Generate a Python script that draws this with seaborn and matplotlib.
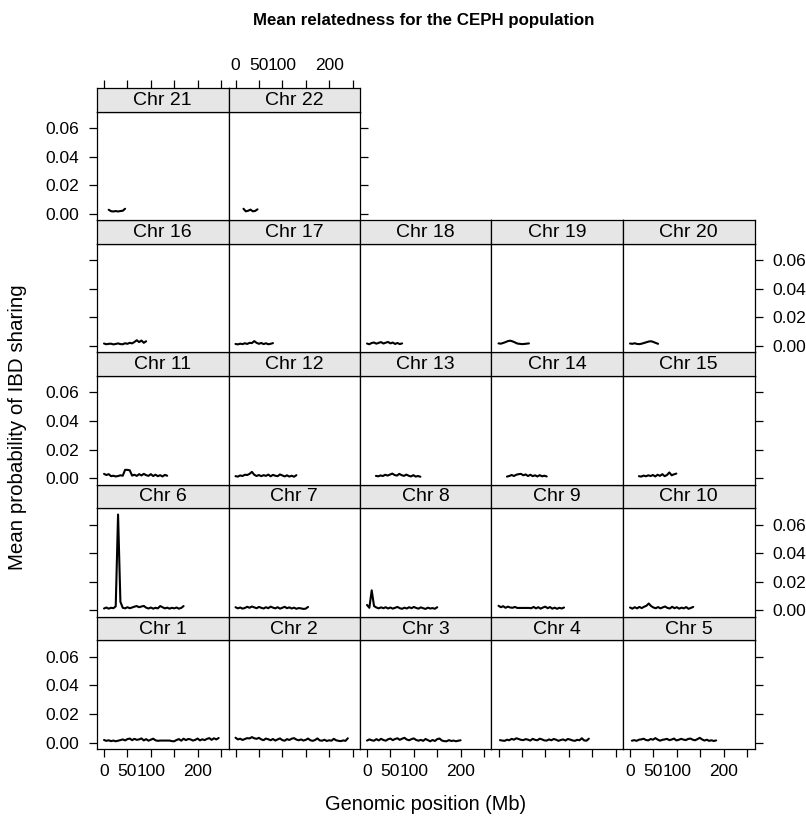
import numpy as np
import pandas as pd
import matplotlib
matplotlib.use("Agg")
import matplotlib.pyplot as plt
import seaborn as sns

# ---- data: mean IBD probability along each chromosome (units of 1e-4) ----
chroms = [f"Chr {i}" for i in range(1, 23)]
chrom_start = [0, 0, 0, 3, 4, 0, 0, 0, 0, 0, 0, 0, 19, 18, 19, 0, 0, 0, 0, 0, 10, 17]
step_mb = 5

ibd_e4 = {
    "Chr 1": [18, 12, 16, 10, 14, 9, 13, 17, 22, 15, 24, 28, 17, 26, 19, 22, 29, 15, 24, 13,
              20, 27, 16, 12, 14, 14, 14, 14, 14, 10, 9, 18, 24, 13, 27, 17, 25, 22, 14, 19,
              28, 15, 23, 17, 26, 31, 19, 30, 22, 32],
    "Chr 2": [34, 22, 27, 18, 25, 31, 29, 38, 30, 26, 33, 22, 17, 28, 23, 16, 25, 14, 22, 29,
              17, 13, 24, 18, 27, 31, 21, 16, 22, 14, 19, 28, 16, 12, 18, 29, 15, 13, 20, 11,
              16, 13, 26, 16, 12, 10, 15, 12, 30],
    "Chr 3": [14, 22, 16, 13, 24, 15, 26, 18, 13, 23, 28, 17, 25, 30, 19, 27, 33, 21, 16, 24,
              29, 18, 13, 19, 12, 25, 17, 9, 18, 11, 24, 28, 14, 10, 9, 17, 11, 14, 9, 13, 16],
    "Chr 4": [17, 14, 12, 20, 16, 26, 20, 30, 25, 19, 17, 24, 20, 14, 26, 19, 16, 27, 22, 15,
              14, 22, 16, 25, 20, 12, 18, 22, 14, 25, 21, 15, 12, 19, 16, 30, 15, 13, 27],
    "Chr 5": [13, 17, 12, 20, 22, 27, 18, 15, 25, 20, 31, 21, 13, 19, 22, 26, 17, 21, 28, 15,
              19, 26, 21, 17, 25, 28, 20, 16, 24, 33, 22, 14, 20, 12, 16, 11, 15],
    "Chr 6": [13, 20, 12, 18, 15, 28, 670, 60, 18, 14, 22, 15, 20, 26, 30, 22, 27, 31, 19, 13,
              20, 12, 18, 14, 30, 22, 14, 19, 12, 18, 14, 20, 12, 17, 30],
    "Chr 7": [22, 14, 20, 12, 17, 25, 18, 27, 21, 15, 24, 18, 13, 22, 15, 26, 19, 14, 22, 12,
              18, 25, 15, 21, 13, 19, 11, 16, 14, 10, 12, 24],
    "Chr 8": [38, 18, 140, 30, 20, 14, 21, 15, 22, 13, 20, 12, 18, 24, 15, 11, 19, 13, 22, 15,
              24, 17, 12, 21, 15, 10, 19, 13, 16, 11, 22],
    "Chr 9": [32, 22, 29, 18, 26, 20, 18, 24, 17, 17, 17, 17, 17, 17, 15, 24, 14, 22, 12, 20,
              26, 15, 23, 12, 19, 11, 18, 13, 20],
    "Chr 10": [20, 12, 22, 14, 24, 16, 25, 32, 48, 30, 20, 15, 23, 14, 21, 27, 17, 13, 25, 15,
               22, 12, 19, 14, 23, 11, 17, 24],
    "Chr 11": [30, 22, 28, 14, 17, 12, 15, 20, 17, 58, 58, 55, 18, 24, 16, 28, 19, 30, 21, 16,
               28, 15, 24, 14, 21, 12, 23, 17],
    "Chr 12": [14, 11, 19, 15, 24, 22, 30, 44, 24, 15, 22, 14, 21, 16, 25, 13, 23, 17, 14, 26,
               19, 12, 20, 11, 17, 10, 21],
    "Chr 13": [16, 13, 19, 15, 24, 18, 25, 32, 22, 18, 30, 21, 16, 25, 17, 12, 21, 11, 15, 10],
    "Chr 14": [11, 15, 22, 15, 24, 28, 30, 20, 26, 15, 24, 14, 20, 12, 21, 13, 17, 12],
    "Chr 15": [14, 11, 18, 13, 20, 15, 22, 12, 24, 16, 28, 14, 22, 40, 20, 27, 32],
    "Chr 16": [17, 12, 15, 16, 11, 14, 18, 13, 12, 19, 15, 22, 18, 28, 40, 27, 38, 22, 33],
    "Chr 17": [14, 11, 16, 13, 19, 14, 22, 20, 34, 22, 15, 21, 13, 19, 12, 15, 20],
    "Chr 18": [17, 12, 21, 24, 16, 22, 27, 17, 23, 28, 18, 24, 14, 21, 13, 18],
    "Chr 19": [18, 16, 21, 27, 34, 37, 32, 25, 17, 15, 13, 14, 16, 18],
    "Chr 20": [17, 15, 19, 14, 13, 16, 21, 26, 31, 33, 28, 21, 15],
    "Chr 21": [28, 18, 16, 19, 16, 19, 21, 35],
    "Chr 22": [35, 17, 21, 29, 17, 20, 31],
}

x_ticks = [0, 50, 100, 150, 200, 250]
x_tick_labels = ["0", "50", "100", "", "200", ""]
y_ticks = [0.00, 0.02, 0.04, 0.06]
y_tick_labels = ["0.00", "0.02", "0.04", "0.06"]

# long-form table for seaborn
rows = []
for name, start in zip(chroms, chrom_start):
    vals = ibd_e4[name]
    for i, v in enumerate(vals):
        rows.append((name, start + step_mb * i, v * 1e-4))
df = pd.DataFrame(rows, columns=["chrom", "pos", "ibd"])

# ---- figure layout (lattice style, 5 x 5 grid filled from bottom-left) ----
sns.set_theme(style="white")
plt.rcParams["font.family"] = ["Liberation Sans", "DejaVu Sans"]
plt.rcParams.update({"text.color": "black", "axes.labelcolor": "black",
                     "xtick.color": "black", "ytick.color": "black"})

W, H = 806, 819
fig = plt.figure(figsize=(W / 100, H / 100), dpi=100)

col_left = [97.0 + 131.5 * c for c in range(5)]
panel_w = 131.5
panel_h = 108.7
strip_h = 23.5
row_step = 132.2
bottom0 = 749.0

xlim = (-15, 266)
ylim = (-0.0045, 0.0715)
tick_len = 6.0
lw_frame = 0.9
strip_color = "#e6e6e6"
tick_fs = 12.5
strip_fs = 14


def to_fig(x0, y_top, w, h):
    return [x0 / W, 1 - (y_top + h) / H, w / W, h / H]


for idx, name in enumerate(chroms):
    r, c = divmod(idx, 5)
    y_bot = bottom0 - r * row_step
    y_top = y_bot - panel_h
    ax = fig.add_axes(to_fig(col_left[c], y_top, panel_w, panel_h))
    sub = df[df["chrom"] == name]
    sns.lineplot(data=sub, x="pos", y="ibd", ax=ax, color="black", lw=1.5,
                 estimator=None, sort=False, legend=False)
    ax.set_xlim(*xlim)
    ax.set_ylim(*ylim)
    ax.set_xlabel("")
    ax.set_ylabel("")
    ax.set_xticks(x_ticks)
    ax.set_yticks(y_ticks)
    ax.set_facecolor("white")
    for s in ax.spines.values():
        s.set_visible(True)
        s.set_color("black")
        s.set_linewidth(lw_frame)
    ax.tick_params(axis="both", which="both", direction="out", length=tick_len,
                   width=lw_frame, color="black", labelsize=tick_fs, labelcolor="black",
                   left=False, right=False, bottom=False, top=False,
                   labelleft=False, labelright=False, labelbottom=False, labeltop=False)
    ax.tick_params(axis="x", pad=5)
    ax.tick_params(axis="y", pad=7)

    # bottom axis on the lowest row
    if r == 0:
        ax.tick_params(axis="x", bottom=True, labelbottom=(c % 2 == 0))
        ax.set_xticklabels(x_tick_labels)
    # left axis on the first column
    if c == 0:
        ax.tick_params(axis="y", left=True, labelleft=(r % 2 == 0))
        ax.set_yticklabels(y_tick_labels)
    # right axis on the last panel of each row
    last_in_row = (c == 4) or (idx == len(chroms) - 1)
    if last_in_row:
        ax.tick_params(axis="y", right=True, labelright=(r % 2 == 1))
        ax.set_yticklabels(y_tick_labels)

    # strip with the chromosome name
    sax = fig.add_axes(to_fig(col_left[c], y_top - strip_h, panel_w, strip_h))
    sax.set_facecolor(strip_color)
    sax.set_xlim(*xlim)
    sax.set_ylim(0, 1)
    sax.set_xticks(x_ticks)
    sax.set_yticks([])
    for s in sax.spines.values():
        s.set_visible(True)
        s.set_color("black")
        s.set_linewidth(lw_frame)
    sax.text(0.5, 0.48, name, transform=sax.transAxes, ha="center", va="center",
             fontsize=strip_fs, color="black")
    top_row = (r == 4)
    sax.tick_params(axis="x", direction="out", length=tick_len, width=lw_frame,
                    color="black", labelsize=tick_fs, labelcolor="black",
                    bottom=False, labelbottom=False,
                    top=top_row, labeltop=(top_row and c % 2 == 1), pad=5)
    if top_row:
        sax.set_xticklabels(x_tick_labels)

fig.text(424 / W, 1 - 21 / H, "Mean relatedness for the CEPH population",
         ha="center", va="center", fontsize=12.2, fontweight="bold", color="black")
fig.text(426 / W, 1 - 805 / H, "Genomic position (Mb)",
         ha="center", va="center", fontsize=14.4, color="black")
fig.text(18 / W, 1 - 427 / H, "Mean probability of IBD sharing",
         ha="center", va="center", rotation=90, fontsize=14.8, color="black")

fig.savefig("out.png", dpi=100, facecolor="white")
